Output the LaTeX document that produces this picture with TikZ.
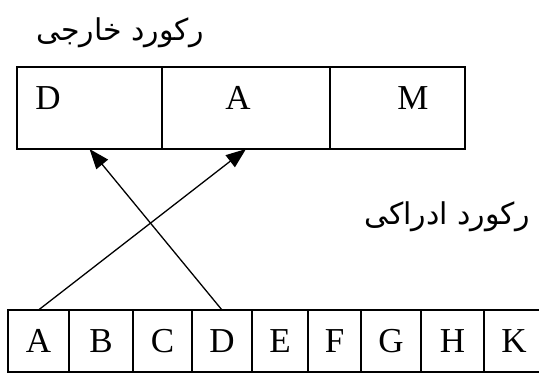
\documentclass[tikz,border=0pt]{standalone}
\usepackage{fontspec}
\setmainfont{Liberation Serif}
\newfontfamily\arabicfont[Script=Arabic]{DejaVu Sans}
\TeXXeTstate=1
\usetikzlibrary{arrows.meta,positioning}
\tikzset{
  extcell/.style={draw,line width=1.6pt,minimum height=82pt,inner sep=0pt,outer sep=0pt},
  cellbox/.style={draw,line width=1.4pt,minimum height=62pt,inner sep=0pt,outer sep=0pt,font=\fontsize{35}{40}\selectfont},
  letter/.style={font=\fontsize{35}{40}\selectfont,inner sep=0pt},
  caption/.style={font=\arabicfont\fontsize{30}{36}\selectfont,inner sep=0pt},
  link/.style={-{Triangle[length=20pt,width=15pt]},line width=1.3pt}
}
\begin{document}
\begin{tikzpicture}[x=1pt,y=-1pt]
\useasboundingbox (0,0) rectangle (539,373);
% external record
\node[caption] (extlabel) at (120,33) {\beginR رکورد خارجی\endR};
\node[extcell,minimum width=145pt] (extD) at (89.5,108) {};
\node[extcell,minimum width=168pt,right=0pt of extD] (extA) {};
\node[extcell,minimum width=135pt,right=0pt of extA] (extM) {};
\node[letter] (extDtext) at (48,98) {D};
\node[letter] (extAtext) at (238,98) {A};
\node[letter] (extMtext) at (413,98) {M};
% perceived record
\node[caption] (perlabel) at (447,217) {\beginR رکورد ادراکی\endR};
\node[cellbox,minimum width=61pt] (cA) at (38.5,341) {A};
\foreach \l/\w [remember=\l as \p (initially A)] in {B/64,C/59,D/60,E/56,F/53,G/60,H/63,K/60}
  \node[cellbox,minimum width=\w pt,right=0pt of c\p] (c\l) {\l};
\draw[link] (cA.north) -- (extA.south);
\draw[link] (cD.north) -- (extD.south);
\end{tikzpicture}
\end{document}
